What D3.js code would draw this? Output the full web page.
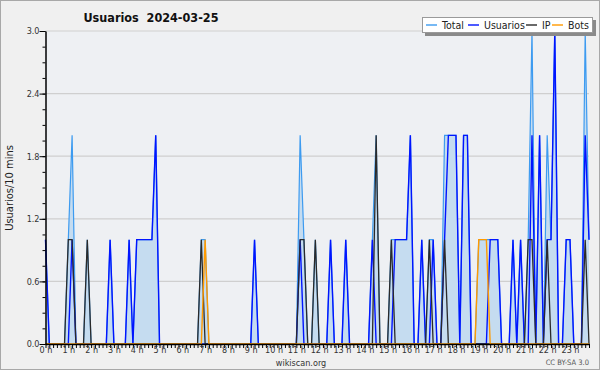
<!DOCTYPE html>
<html><head><meta charset="utf-8">
<script src="https://cdn.jsdelivr.net/npm/d3@7"></script>
<style>
html,body{margin:0;padding:0;background:#fff;}
svg{display:block;}
text{font-family:"DejaVu Sans Condensed","DejaVu Sans",sans-serif;font-stretch:condensed;}
</style></head><body>
<svg id="c" width="600" height="370"></svg>
<script>
const title = "Usuarios\u00a0\u00a02024-03-25";
const yLabel = "Usuarios/10 mins";
const footerLeft = "wikiscan.org";
const footerRight = "CC BY-SA 3.0";
const seriesNames = ["Total", "Usuarios", "IP", "Bots"];
const hourLabels = d3.range(24).map(h => h + " h");
const yMajorTicks = [0, 0.6, 1.2, 1.8, 2.4, 3.0];

// 144 ten-minute slots (00:00 .. 23:50)
const total = [
  1,0,0,0,0,0, 1,2,0,0,0,1,
  0,0,0,0,0,1, 0,0,0,0,1,0,
  1,1,1,1,1,2, 0,0,0,0,0,0,
  0,0,0,0,0,1, 1,0,0,0,0,0,
  0,0,0,0,0,0, 0,1,0,0,0,0,
  0,0,0,0,0,0, 0,2,1,0,0,1,
  0,0,0,1,0,0, 0,1,0,0,0,0,
  0,0,1,2,0,0, 0,1,1,1,1,1,
  2,0,0,1,0,1, 1,0,0,2,2,2,
  2,0,2,2,0,0, 1,1,1,1,1,1,
  0,0,0,1,0,1, 0,1,3,0,2,0,
  2,1,3,0,0,1, 1,0,0,0,3,1
];
const usuarios = [
  1,0,0,0,0,0, 0,1,0,0,0,0,
  0,0,0,0,0,1, 0,0,0,0,1,0,
  1,1,1,1,1,2, 0,0,0,0,0,0,
  0,0,0,0,0,0, 0,0,0,0,0,0,
  0,0,0,0,0,0, 0,1,0,0,0,0,
  0,0,0,0,0,0, 0,1,0,0,0,0,
  0,0,0,1,0,0, 0,1,0,0,0,0,
  0,0,1,0,0,0, 0,0,1,1,1,1,
  2,0,0,1,0,0, 1,0,0,1,2,2,
  2,0,2,2,0,0, 0,0,0,1,1,1,
  0,0,0,1,0,1, 0,0,2,0,2,0,
  1,1,3,0,0,1, 1,0,0,0,2,1
];
const ip = [
  0,0,0,0,0,0, 1,1,0,0,0,1,
  0,0,0,0,0,0, 0,0,0,0,0,0,
  0,0,0,0,0,0, 0,0,0,0,0,0,
  0,0,0,0,0,1, 0,0,0,0,0,0,
  0,0,0,0,0,0, 0,0,0,0,0,0,
  0,0,0,0,0,0, 0,1,1,0,0,1,
  0,0,0,0,0,0, 0,0,0,0,0,0,
  0,0,0,2,0,0, 0,1,0,0,0,0,
  0,0,0,0,0,1, 0,0,0,1,0,0,
  0,0,0,0,0,0, 0,0,0,0,0,0,
  0,0,0,0,0,0, 0,1,1,0,0,0,
  1,0,0,0,0,0, 0,0,0,0,1,0
];
const bots = [
  0,0,0,0,0,0, 0,0,0,0,0,0,
  0,0,0,0,0,0, 0,0,0,0,0,0,
  0,0,0,0,0,0, 0,0,0,0,0,0,
  0,0,0,0,0,0, 1,0,0,0,0,0,
  0,0,0,0,0,0, 0,0,0,0,0,0,
  0,0,0,0,0,0, 0,0,0,0,0,0,
  0,0,0,0,0,0, 0,0,0,0,0,0,
  0,0,0,0,0,0, 0,0,0,0,0,0,
  0,0,0,0,0,0, 0,0,0,0,0,0,
  0,0,0,0,0,0, 1,1,1,0,0,0,
  0,0,0,0,0,0, 0,0,0,0,0,0,
  0,0,0,0,0,0, 0,0,0,0,0,0
];

const colors = {Total: "#3d9bf0", Usuarios: "#0014ff", IP: "#2a2a2a", Bots: "#ff9a00"};
const fillColor = "#c5dcf0";

const svg = d3.select("#c");
const W = 600, H = 370;
const L = 45.5, R = 589, T = 31, B = 344;

svg.append("rect").attr("x", 0.5).attr("y", 0.5).attr("width", W - 1).attr("height", H - 1)
  .attr("fill", "#f0f0f0").attr("stroke", "#a8a8a8");
svg.append("rect").attr("x", L).attr("y", T).attr("width", R - L).attr("height", B - T)
  .attr("fill", "#eef0f3");

const x = d3.scaleLinear().domain([0, 143]).range([L, R]);
const y = d3.scaleLinear().domain([0, 3]).range([B, T]);

// grid
svg.append("g").selectAll("line").data(yMajorTicks.filter(d => d > 0)).join("line")
  .attr("x1", L).attr("x2", R).attr("y1", d => y(d)).attr("y2", d => y(d))
  .attr("stroke", "#cfcfcf").attr("stroke-width", 1.2);

// area
const area = d3.area().x((d, i) => x(i)).y0(y(0)).y1(d => y(d));
svg.append("path").datum(total).attr("d", area).attr("fill", fillColor);

const line = d3.line().x((d, i) => x(i)).y(d => y(d));
const series = [["Total", total, 1.2], ["Usuarios", usuarios, 1.4], ["IP", ip, 1.3], ["Bots", bots, 1.4]];
series.forEach(([name, data, w]) => {
  svg.append("path").datum(data).attr("d", line).attr("fill", "none")
    .attr("stroke", colors[name]).attr("stroke-width", w).attr("stroke-linejoin", "miter");
});

// x axis
const xAxis = d3.axisBottom(x).tickValues(d3.range(0, 144)).tickSize(4).tickSizeOuter(0)
  .tickFormat(i => i % 6 === 0 ? hourLabels[i / 6] : "");
const gx = svg.append("g").attr("transform", `translate(0,${B})`).call(xAxis);
gx.select(".domain").attr("stroke", "#000").attr("stroke-width", 1.5);
gx.selectAll(".tick line").attr("stroke", "#000");
gx.selectAll("text").attr("font-size", 9).attr("fill", "#333").attr("y", 3).attr("dy", "0.71em");

// y axis minor
const yMinor = d3.axisLeft(y).tickValues(d3.range(0, 21).map(k => k * 0.15)).tickSize(3).tickSizeOuter(0).tickFormat("");
const gym = svg.append("g").attr("transform", `translate(${L},0)`).call(yMinor);
gym.select(".domain").attr("stroke", "#000").attr("stroke-width", 1.5);
gym.selectAll(".tick line").attr("stroke", "#000");
const yMajor = d3.axisLeft(y).tickValues(yMajorTicks).tickSize(6).tickSizeOuter(0).tickFormat(d3.format(".1f"));
const gy = svg.append("g").attr("transform", `translate(${L},0)`).call(yMajor);
gy.select(".domain").remove();
gy.selectAll(".tick line").attr("stroke", "#000");
gy.selectAll("text").attr("font-size", 9).attr("fill", "#333").attr("x", -6);

// title
svg.append("text").attr("x", 151).attr("y", 22).attr("text-anchor", "middle")
  .attr("font-size", 12.5).attr("font-weight", "bold").attr("fill", "#111").text(title);

// y label
svg.append("text").attr("transform", "translate(13,188) rotate(-90)").attr("text-anchor", "middle")
  .attr("font-size", 11).attr("fill", "#222").text(yLabel);

// footer
svg.append("text").attr("x", 301).attr("y", 366).attr("text-anchor", "middle")
  .attr("font-size", 9).attr("fill", "#333").text(footerLeft);
svg.append("text").attr("x", 589).attr("y", 365).attr("text-anchor", "end")
  .attr("font-size", 7.5).attr("fill", "#555").text(footerRight);

// legend
const lg = svg.append("g");
lg.append("rect").attr("x", 425).attr("y", 20).attr("width", 171).attr("height", 16).attr("fill", "#8a8a8a");
lg.append("rect").attr("x", 422.5).attr("y", 17.5).attr("width", 170).attr("height", 15)
  .attr("fill", "#fff").attr("stroke", "#9a9a9a");
const legendX = [426, 468, 526, 552];
seriesNames.forEach((n, k) => {
  lg.append("line").attr("x1", legendX[k]).attr("x2", legendX[k] + 11).attr("y1", 25).attr("y2", 25)
    .attr("stroke", colors[n]).attr("stroke-width", 1.4);
  lg.append("text").attr("x", legendX[k] + 16).attr("y", 28.5).attr("font-size", 10.5)
    .attr("fill", "#222").text(n);
});
</script>
</body></html>
